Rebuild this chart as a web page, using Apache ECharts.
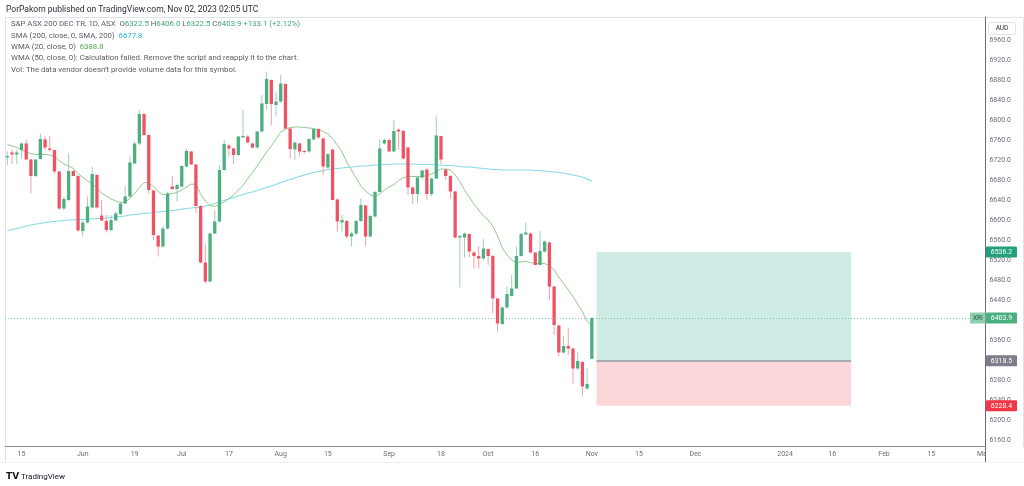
<!DOCTYPE html>
<html><head><meta charset="utf-8">
<script src="https://cdn.jsdelivr.net/npm/echarts@6/dist/echarts.min.js"></script>
<style>html,body{margin:0;padding:0;background:#fff}#c{width:1024px;height:486px}</style>
</head><body><div id="c"></div>
<script>
// ---- data ----
const opens = [6725,6735,6731,6740,6753,6721,6688,6722,6761,6743,
6740,6697,6623,6640,6698,6688,6578,6595,6625,6690,
6609,6598,6580,6599,6612,6633,6647,6713,6753,6812,
6770,6659,6569,6547,6583,6667,6662,6667,6707,6737,
6711,6628,6515,6477,6573,6597,6700,6749,6743,6730,
6765,6767,6753,6745,6777,6832,6880,6830,6837,6872,
6783,6741,6753,6738,6737,6761,6782,6763,6705,6741,
6641,6595,6598,6567,6573,6598,6629,6567,6607,6656,
6753,6760,6737,6781,6778,6745,6665,6652,6685,6701,
6652,6683,6768,6701,6688,6657,6565,6565,6572,6535,
6528,6523,6542,6528,6443,6392,6425,6448,6463,6528,
6571,6573,6535,6510,6537,6555,6467,6389,6335,6348,
6343,6303,6316,6263,6322.5];
const highs = [6737,6741,6741,6755,6761,6723,6722,6773,6768,6768,
6741,6698,6647,6733,6700,6690,6600,6647,6707,6692,
6640,6610,6610,6617,6637,6667,6727,6757,6820,6813,
6771,6660,6569,6587,6657,6688,6673,6710,6743,6738,
6712,6630,6553,6575,6620,6710,6760,6752,6745,6768,
6820,6770,6755,6778,6850,6897,6881,6857,6890,6873,
6785,6757,6755,6740,6763,6783,6783,6765,6733,6743,
6643,6610,6600,6577,6600,6643,6630,6610,6658,6761,
6763,6763,6800,6783,6780,6747,6668,6688,6701,6703,
6685,6807,6769,6703,6690,6658,6570,6575,6573,6538,
6548,6562,6543,6530,6445,6427,6467,6490,6547,6575,
6595,6575,6536,6578,6559,6557,6468,6390,6368,6383,
6345,6335,6318,6303,6406];
const lows = [6710,6712,6712,6723,6720,6653,6686,6721,6740,6737,
6693,6620,6620,6637,6687,6577,6567,6593,6623,6623,
6599,6575,6578,6597,6610,6632,6643,6712,6750,6768,
6653,6560,6527,6545,6581,6660,6637,6665,6705,6710,
6613,6513,6473,6475,6572,6595,6699,6728,6712,6728,
6765,6753,6743,6743,6775,6821,6790,6807,6835,6781,
6723,6720,6727,6733,6735,6760,6762,6690,6703,6639,
6577,6577,6563,6547,6570,6596,6548,6565,6605,6655,
6751,6735,6735,6741,6721,6650,6632,6633,6683,6641,
6648,6682,6712,6680,6643,6563,6465,6525,6525,6503,
6503,6521,6510,6413,6377,6390,6423,6447,6462,6527,
6570,6533,6509,6509,6535,6440,6370,6327,6333,6330,
6273,6300,6247,6261,6322.5];
const closes = [6728,6731,6735,6753,6721,6688,6721,6762,6745,6740,
6697,6623,6642,6698,6688,6579,6595,6627,6692,6625,
6599,6580,6600,6613,6633,6647,6715,6753,6812,6770,
6660,6570,6547,6583,6653,6662,6670,6708,6738,6711,
6628,6515,6477,6573,6597,6700,6752,6743,6730,6767,
6768,6755,6745,6777,6833,6882,6832,6837,6873,6783,
6742,6755,6737,6736,6762,6782,6765,6707,6732,6640,
6597,6600,6567,6573,6598,6630,6567,6608,6656,6743,
6760,6737,6778,6777,6723,6665,6652,6685,6699,6652,
6683,6769,6721,6688,6657,6565,6568,6573,6537,6528,
6523,6543,6528,6443,6393,6425,6452,6463,6528,6572,
6575,6535,6510,6538,6557,6467,6390,6335,6348,6343,
6303,6318,6267,6272,6403.9];
const sma200 = [6579,6581,6583,6585,6588,6590,6592,6593,6595,6596,
6597,6598,6599,6600,6600,6601,6601,6602,6602,6603,
6603,6604,6605,6606,6607,6608,6610,6611,6612,6613,
6614,6615,6616,6617,6618,6619,6620,6622,6623,6624,
6625,6626,6628,6630,6633,6636,6639,6642,6645,6648,
6651,6654,6656,6659,6662,6665,6668,6671,6675,6678,
6681,6684,6687,6690,6693,6695,6697,6699,6701,6702,
6703,6704,6705,6706,6707,6708,6708,6709,6710,6710,
6711,6711,6712,6712,6712,6712,6712,6711,6711,6711,
6711,6710,6710,6709,6709,6708,6707,6706,6706,6705,
6704,6703,6702,6701,6701,6700,6700,6700,6700,6700,
6700,6700,6699,6699,6698,6697,6696,6695,6694,6692,
6690,6688,6686,6682,6677.8];
const wma20 = [6751,6748,6745,6740,6736,6733,6731,6731,6731,6730,
6727,6719,6712,6708,6703,6693,6685,6678,6673,6664,
6654,6648,6642,6638,6635,6636,6643,6653,6665,6675,
6674,6667,6657,6651,6651,6653,6655,6660,6666,6672,
6671,6652,6638,6629,6627,6631,6636,6643,6650,6660,
6669,6683,6695,6708,6722,6736,6748,6762,6776,6782,
6785,6786,6786,6785,6784,6783,6781,6777,6772,6763,
6750,6736,6716,6700,6684,6668,6658,6650,6647,6652,
6660,6666,6671,6679,6685,6687,6687,6687,6687,6689,
6692,6697,6702,6702,6700,6690,6677,6660,6646,6632,
6620,6608,6600,6588,6568,6545,6530,6520,6515,6516,
6517,6515,6513,6513,6513,6508,6501,6485,6473,6460,
6447,6432,6417,6397,6388.8];

// calendar (trading days incl. future bars)
const firstDay = '2023-05-10', lastDay = '2024-03-01';
const holidays = ['2023-06-12','2023-12-25','2023-12-26','2024-01-01','2024-01-26'];
const tickLabels = {'2023-05-15':'15','2023-06-01':'Jun','2023-06-19':'19','2023-07-03':'Jul','2023-07-17':'17',
 '2023-08-01':'Aug','2023-08-15':'15','2023-09-01':'Sep','2023-09-18':'18','2023-10-02':'Oct','2023-10-16':'16',
 '2023-11-01':'Nov','2023-11-15':'15','2023-12-01':'Dec','2024-01-02':'2024','2024-01-16':'16','2024-02-01':'Feb',
 '2024-02-15':'15','2024-03-01':'Mar'};
const priceTicks = [6160,6200,6240,6280,6320,6360,6400,6440,6480,6520,6560,6600,6640,6680,6720,6760,6800,6840,6880,6920,6960];

// long position tool
const entryPrice = 6318.5, targetPrice = 6536.2, stopPrice = 6228.4, lastPrice = 6403.9;
const boxStart = '2023-11-02', boxEnd = '2024-01-22';

function buildCategories(){
  const out = [];
  let t = Date.parse(firstDay + 'T00:00:00Z');
  const end = Date.parse(lastDay + 'T00:00:00Z');
  while (t <= end){
    const d = new Date(t); const wd = d.getUTCDay(); const s = d.toISOString().slice(0,10);
    if (wd !== 0 && wd !== 6 && holidays.indexOf(s) < 0) out.push(s);
    t += 86400000;
  }
  return out;
}
const categories = buildCategories();

const UP = '#4caf7f', DOWN = '#ef5264', UPW = '#9ccfbb', DOWNW = '#f3a0aa';
const FONT = 'Roboto';
const candleData = opens.map((o,i)=>[i, o, closes[i], lows[i], highs[i]]);

const chart = echarts.init(document.getElementById('c'), null, {renderer:'canvas'});
chart.setOption({
  animation:false,
  backgroundColor:'#ffffff',
  grid:{left:5, right:38.6, top:17, bottom:40, containLabel:false},
  xAxis:{type:'category', data:categories, boundaryGap:true,
    axisLine:{lineStyle:{color:'#8a8d96', width:1}}, axisTick:{show:false},
    axisLabel:{interval:(idx,val)=>tickLabels[val]!==undefined, formatter:v=>tickLabels[v]||'',
      color:'#6a6d78', fontSize:7, fontFamily:FONT, margin:5},
    splitLine:{show:false}},
  yAxis:{type:'value', position:'right', min:6148, max:7006, scale:true,
    axisLine:{show:true, lineStyle:{color:'#6a6d78', width:1}}, axisTick:{show:false},
    splitLine:{show:false},
    axisLabel:{customValues:priceTicks, formatter:v=>v.toFixed(1), color:'#6a6d78', fontSize:7, fontFamily:FONT, margin:4}},
  series:[
    {type:'line', name:'SMA', data:sma200, showSymbol:false, symbol:'none', z:3,
      lineStyle:{color:'#86d9e8', width:1.2},
      markArea:{silent:true, data:[
        [{xAxis:boxStart, yAxis:entryPrice, itemStyle:{color:'rgba(8,153,129,0.2)'}},{xAxis:boxEnd, yAxis:targetPrice}],
        [{xAxis:boxStart, yAxis:stopPrice, itemStyle:{color:'rgba(242,54,69,0.2)'}},{xAxis:boxEnd, yAxis:entryPrice}]
      ]},
      markLine:{silent:true, symbol:'none', label:{show:false}, data:[
        {yAxis:lastPrice, lineStyle:{color:'#7cc4a8', type:[1,2], width:1}},
        [{xAxis:boxStart, yAxis:entryPrice, lineStyle:{color:'#9598a1', type:'solid', width:1.5}},{xAxis:boxEnd, yAxis:entryPrice}]
      ]}},
    {type:'line', name:'WMA', data:wma20, showSymbol:false, symbol:'none', z:3,
      lineStyle:{color:'#93c98f', width:1}},
    {type:'custom', name:'Candles', data:candleData, z:4,
      encode:{x:0, y:[1,2,3,4]},
      renderItem:function(params, api){
        const i = api.value(0), o = api.value(1), c = api.value(2), l = api.value(3), h = api.value(4);
        const pO = api.coord([i,o]), pC = api.coord([i,c]), pL = api.coord([i,l]), pH = api.coord([i,h]);
        const bw = api.size([1,0])[0] * 0.7;
        const up = c >= o;
        const cx = pO[0];
        const top = Math.min(pO[1], pC[1]);
        const hgt = Math.max(1, Math.abs(pO[1]-pC[1]));
        return {type:'group', children:[
          {type:'line', shape:{x1:cx, y1:pH[1], x2:cx, y2:pL[1]}, style:{stroke: up?UPW:DOWNW, lineWidth:1}},
          {type:'rect', shape:{x:cx-bw/2, y:top, width:bw, height:hgt}, style:{fill: up?UP:DOWN}}
        ]};
      }}
  ]
});

function tag(y, text, bg, fg){
  return {type:'group', children:[
    {type:'rect', shape:{x:986, y:y-5.5, width:31, height:11, r:1}, style:{fill:bg}, z:100},
    {type:'text', style:{x:1001.5, y:y, text:text, fill:fg||'#fff', fontSize:7, fontFamily:FONT, align:'center', verticalAlign:'middle'}, z:101}
  ]};
}
const py = v => chart.convertToPixel({yAxisIndex:0}, v);
const G = '#5a5d66';
const LF = 7.8;
chart.setOption({graphic:[
  {type:'rect', shape:{x:5.5, y:17.5, width:1018, height:445}, style:{fill:'none', stroke:'#e0e3eb', lineWidth:1}, z:0},
  {type:'rect', shape:{x:986, y:447, width:38, height:15}, style:{fill:'#fff'}, z:50},
  {type:'line', shape:{x1:985.5, y1:446, x2:985.5, y2:462}, style:{stroke:'#6a6d78', lineWidth:1}, z:51},
  {type:'text', style:{x:6, y:9.5, text:'PorPakorn published on TradingView.com, Nov 02, 2023 02:05 UTC', fill:'#2a2e39', fontSize:8.5, fontFamily:FONT, verticalAlign:'middle'}},
  {type:'text', style:{x:11, y:24, verticalAlign:'middle', fontSize:LF, fontFamily:FONT, fill:G,
    text:'{g|S&P ASX 200 DEC TR, 1D, ASX}  {g|O}{v|6322.5} {g|H}{v|6406.0} {g|L}{v|6322.5} {g|C}{v|6403.9} {v|+133.1 (+2.12%)}',
    rich:{g:{fill:G, fontSize:LF, fontFamily:FONT}, v:{fill:'#3fa877', fontSize:LF, fontFamily:FONT}}}},
  {type:'text', style:{x:11, y:35.7, verticalAlign:'middle', fontSize:LF, fontFamily:FONT, fill:G,
    text:'{g|SMA (200, close, 0, SMA, 200)}  {v|6677.8}',
    rich:{g:{fill:G, fontSize:LF, fontFamily:FONT}, v:{fill:'#22b5d4', fontSize:LF, fontFamily:FONT}}}},
  {type:'text', style:{x:11, y:47, verticalAlign:'middle', fontSize:LF, fontFamily:FONT, fill:G,
    text:'{g|WMA (20, close, 0)}  {v|6388.8}',
    rich:{g:{fill:G, fontSize:LF, fontFamily:FONT}, v:{fill:'#4caf50', fontSize:LF, fontFamily:FONT}}}},
  {type:'text', style:{x:11, y:58.3, verticalAlign:'middle', text:'WMA (50, close, 0): Calculation failed. Remove the script and reapply it to the chart.', fill:G, fontSize:LF, fontFamily:FONT}},
  {type:'text', style:{x:11, y:69.7, verticalAlign:'middle', text:'Vol: The data vendor doesn\u2019t provide volume data for this symbol.', fill:G, fontSize:LF, fontFamily:FONT}},
  // AUD box
  {type:'rect', shape:{x:988.5, y:22.5, width:27, height:12, r:2}, style:{fill:'#fff', stroke:'#e0e3eb', lineWidth:1}, z:100},
  {type:'text', style:{x:1002, y:28.5, text:'AUD', fill:'#2a2e39', fontSize:6.5, fontFamily:FONT, align:'center', verticalAlign:'middle'}, z:101},
  // price tags
  tag(py(targetPrice), targetPrice.toFixed(1), '#22a07c'),
  tag(py(lastPrice), lastPrice.toFixed(1), '#4caf7f'),
  tag(py(entryPrice), entryPrice.toFixed(1), '#7c7f89'),
  tag(py(stopPrice), stopPrice.toFixed(1), '#f23645'),
  {type:'rect', shape:{x:970, y:py(lastPrice)-5.5, width:15.5, height:11, r:1}, style:{fill:'#8fd0ae'}, z:100},
  {type:'text', style:{x:977.8, y:py(lastPrice), text:'XRI', fill:'#1b5e3f', fontSize:6.5, fontFamily:FONT, align:'center', verticalAlign:'middle'}, z:101},
  // footer
  {type:'line', shape:{x1:0, y1:462.5, x2:1024, y2:462.5}, style:{stroke:'#eef0f3', lineWidth:1}},
  {type:'text', style:{x:6, y:476.5, text:'TV', fill:'#131722', fontSize:9, fontWeight:'bold', fontFamily:'DejaVu Sans', verticalAlign:'middle'}},
  {type:'text', style:{x:21, y:476.5, text:'TradingView', fill:'#131722', fontSize:8, fontFamily:FONT, verticalAlign:'middle'}}
]});
</script></body></html>
